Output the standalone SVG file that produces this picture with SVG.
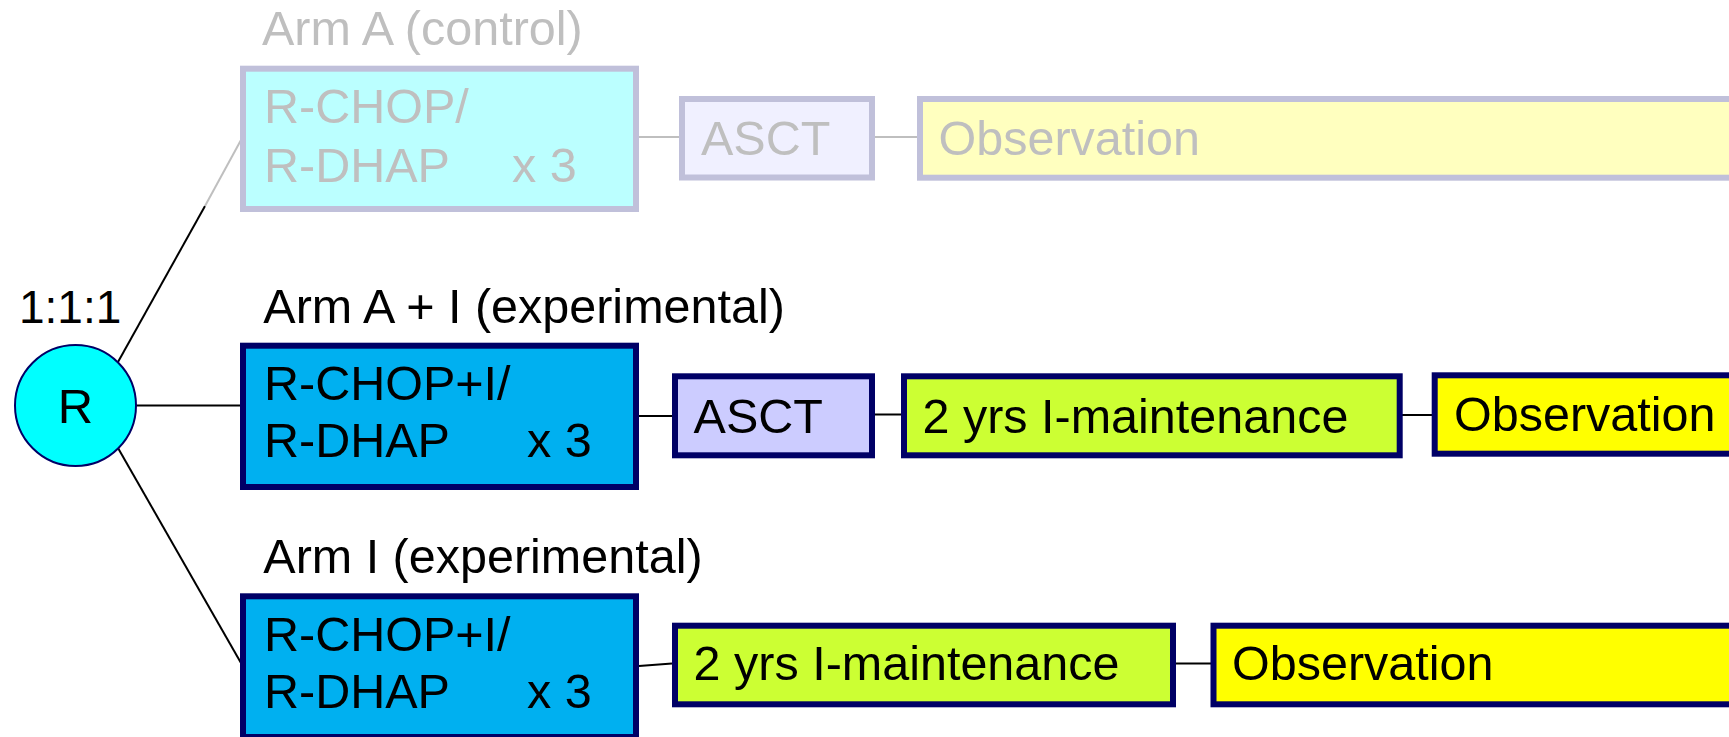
<svg xmlns="http://www.w3.org/2000/svg" width="1729" height="737" viewBox="0 0 1729 737">
<style>
text{font-family:"Liberation Sans",Arial,sans-serif;font-size:48.5px;fill:#000}
.faded text{fill:#BFBFBF}
.fbox{stroke:#C0C0DA;stroke-width:6}
.box{stroke:#000066;stroke-width:6}
.c{stroke:#000;stroke-width:2;fill:none}
.cg{stroke:#BFBFBF;stroke-width:2;fill:none}
</style>
<rect x="0" y="0" width="1729" height="737" fill="#fff"/>
<g id="connectors">
<line class="c" x1="118" y1="362" x2="205" y2="206"/>
<line class="cg" x1="205" y1="206" x2="241" y2="140"/>
<line class="cg" x1="639" y1="137" x2="679" y2="137"/>
<line class="cg" x1="875" y1="137" x2="917" y2="137"/>
<line class="c" x1="136" y1="405.5" x2="240" y2="405.5"/>
<line class="c" x1="639" y1="416" x2="672" y2="416"/>
<line class="c" x1="875" y1="414.5" x2="901" y2="414.5"/>
<line class="c" x1="1402" y1="415" x2="1432" y2="415"/>
<line class="c" x1="118" y1="448" x2="241" y2="663"/>
<line class="c" x1="639" y1="666" x2="672" y2="663.5"/>
<line class="c" x1="1176" y1="663.5" x2="1211" y2="663.5"/>
</g>
<g id="armA" class="faded">
<text x="262" y="45">Arm A (control)</text>
<g id="armA-chemo">
<rect class="fbox" x="243" y="68.7" width="393" height="140.3" fill="#BBFFFF"/>
<text x="264" y="123.3">R-CHOP/</text>
<text x="264" y="181.7">R-DHAP</text>
<text x="512" y="181.7">x 3</text>
</g>
<g id="armA-asct">
<rect class="fbox" x="682" y="99" width="190" height="78.5" fill="#F0F0FF"/>
<text x="701" y="155">ASCT</text>
</g>
<g id="armA-obs">
<rect class="fbox" x="920" y="99" width="900" height="78.7" fill="#FFFFBF"/>
<text x="938.5" y="155">Observation</text>
</g>
</g>
<g id="rand">
<text x="19" y="323.3" style="font-size:46px">1:1:1</text>
<circle cx="75.5" cy="405.5" r="60.5" fill="#00FFFF" stroke="#000066" stroke-width="2"/>
<text x="75.5" y="423" text-anchor="middle" style="font-size:49px">R</text>
</g>
<g id="armAI">
<text x="263.3" y="323.3">Arm A + I (experimental)</text>
<g id="armAI-chemo">
<rect class="box" x="243" y="345.7" width="393" height="141.3" fill="#00B0F0"/>
<text x="264" y="400">R-CHOP+I/</text>
<text x="264" y="456.7">R-DHAP</text>
<text x="527" y="456.7">x 3</text>
</g>
<g id="armAI-asct">
<rect class="box" x="675" y="376.3" width="197" height="79" fill="#CCCCFF"/>
<text x="693.6" y="432.7">ASCT</text>
</g>
<g id="armAI-maint">
<rect class="box" x="904" y="376.3" width="495.7" height="79" fill="#CCFF33"/>
<text x="922.5" y="432.7">2 yrs I-maintenance</text>
</g>
<g id="armAI-obs">
<rect class="box" x="1434.7" y="375.3" width="400" height="78.4" fill="#FFFF00"/>
<text x="1454" y="430.7">Observation</text>
</g>
</g>
<g id="armI">
<text x="263.3" y="573.3">Arm I (experimental)</text>
<g id="armI-chemo">
<rect class="box" x="243" y="596.3" width="393" height="140.7" fill="#00B0F0"/>
<text x="264" y="650.7">R-CHOP+I/</text>
<text x="264" y="708">R-DHAP</text>
<text x="527" y="708">x 3</text>
</g>
<g id="armI-maint">
<rect class="box" x="675" y="625.7" width="498" height="78.6" fill="#CCFF33"/>
<text x="693.6" y="680">2 yrs I-maintenance</text>
</g>
<g id="armI-obs">
<rect class="box" x="1213.5" y="625.7" width="600" height="78.6" fill="#FFFF00"/>
<text x="1232" y="680">Observation</text>
</g>
</g>
</svg>
